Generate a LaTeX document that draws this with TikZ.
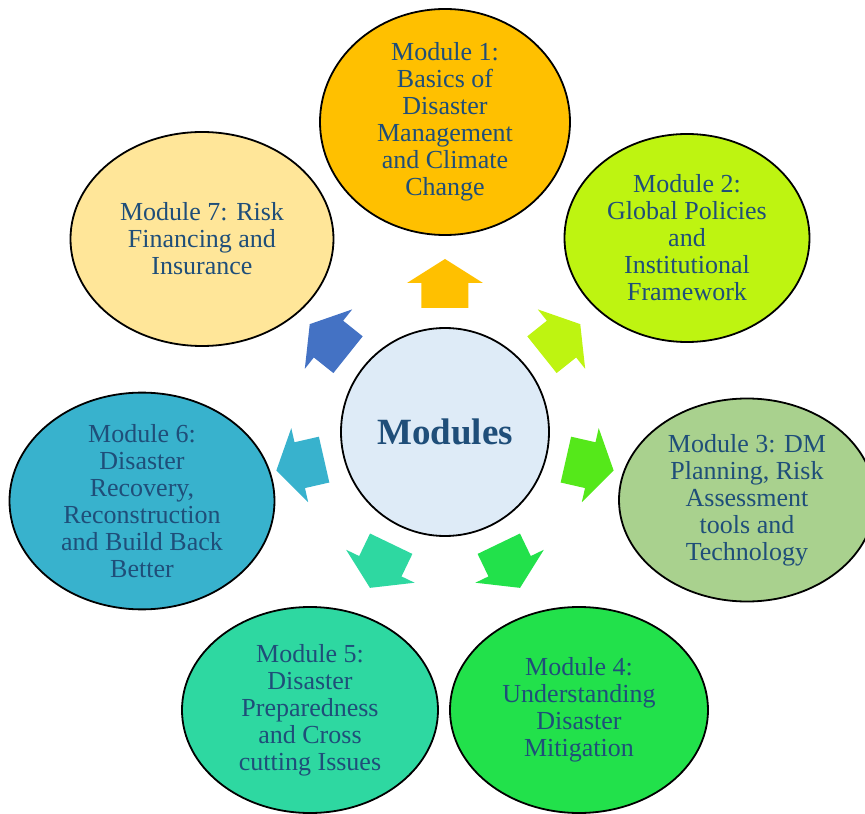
\documentclass[tikz,border=0pt]{standalone}
\usepackage{fontspec}
\setmainfont{Liberation Serif}
\usetikzlibrary{shapes.geometric}
\definecolor{modtext}{HTML}{1F4E79}
\definecolor{hubfill}{HTML}{DEEBF7}
\definecolor{modA}{HTML}{FFC000}
\definecolor{modB}{HTML}{BEF411}
\definecolor{modC}{HTML}{A9D18E}
\definecolor{modD}{HTML}{22E14B}
\definecolor{modE}{HTML}{2ED8A1}
\definecolor{modF}{HTML}{38B2CD}
\definecolor{modG}{HTML}{FFE699}
\definecolor{arrC}{HTML}{55E81A}
\definecolor{arrG}{HTML}{4472C4}

\begin{document}
\begin{tikzpicture}[x=1pt,y=1pt,
		module/.style={ellipse,draw,line width=1.8pt,inner sep=0pt,align=center,
		text=modtext,font=\fontsize{26}{27}\selectfont},
		hub/.style={circle,draw,line width=1.8pt,fill=hubfill,minimum size=208pt,
		text=modtext,font=\fontsize{37}{40}\selectfont\bfseries},
		]
		\useasboundingbox (-445,-382) rectangle (420,432);
		\node[hub] (hub) at (0,0) {Modules};

		\node[module,fill=modA,minimum width=250pt,minimum height=226pt] (m1) at (0,310)
		{Module 1:\\ Basics of\\ Disaster\\ Management\\ and Climate\\ Change};
		\node[module,fill=modB,minimum width=245pt,minimum height=208pt] (m2) at (242,194)
		{Module 2:\\ Global Policies\\ and\\ Institutional\\ Framework};
		\node[module,fill=modC,minimum width=256pt,minimum height=203pt] (m3) at (302,-68)
		{Module 3: DM\\ Planning, Risk\\ Assessment\\ tools and\\ Technology};
		\node[module,fill=modD,minimum width=258pt,minimum height=206pt] (m4) at (134,-278)
		{Module 4:\\ Understanding\\ Disaster\\ Mitigation};
		\node[module,fill=modE,minimum width=256pt,minimum height=206pt] (m5) at (-135,-278)
		{Module 5:\\ Disaster\\ Preparedness\\ and Cross\\ cutting Issues};
		\node[module,fill=modF,minimum width=265pt,minimum height=216pt] (m6) at (-303,-69)
		{Module 6:\\ Disaster\\ Recovery,\\ Reconstruction\\ and Build Back\\ Better};
		\node[module,fill=modG,minimum width=263pt,minimum height=214pt] (m7) at (-243,193)
		{Module 7: Risk\\ Financing and\\ Insurance};

		% block arrows round the hub
		\foreach \ang/\col in {90/modA,38.57/modB,-12.86/arrC,-64.29/modD,
			-115.71/modE,-167.14/modF,141.43/arrG}
		\fill[\col,rotate=\ang] (124,-23.5) -- (149,-23.5) -- (149,-38) -- (173,0)
		-- (149,38) -- (149,23.5) -- (124,23.5) -- cycle;
\end{tikzpicture}
\end{document}
